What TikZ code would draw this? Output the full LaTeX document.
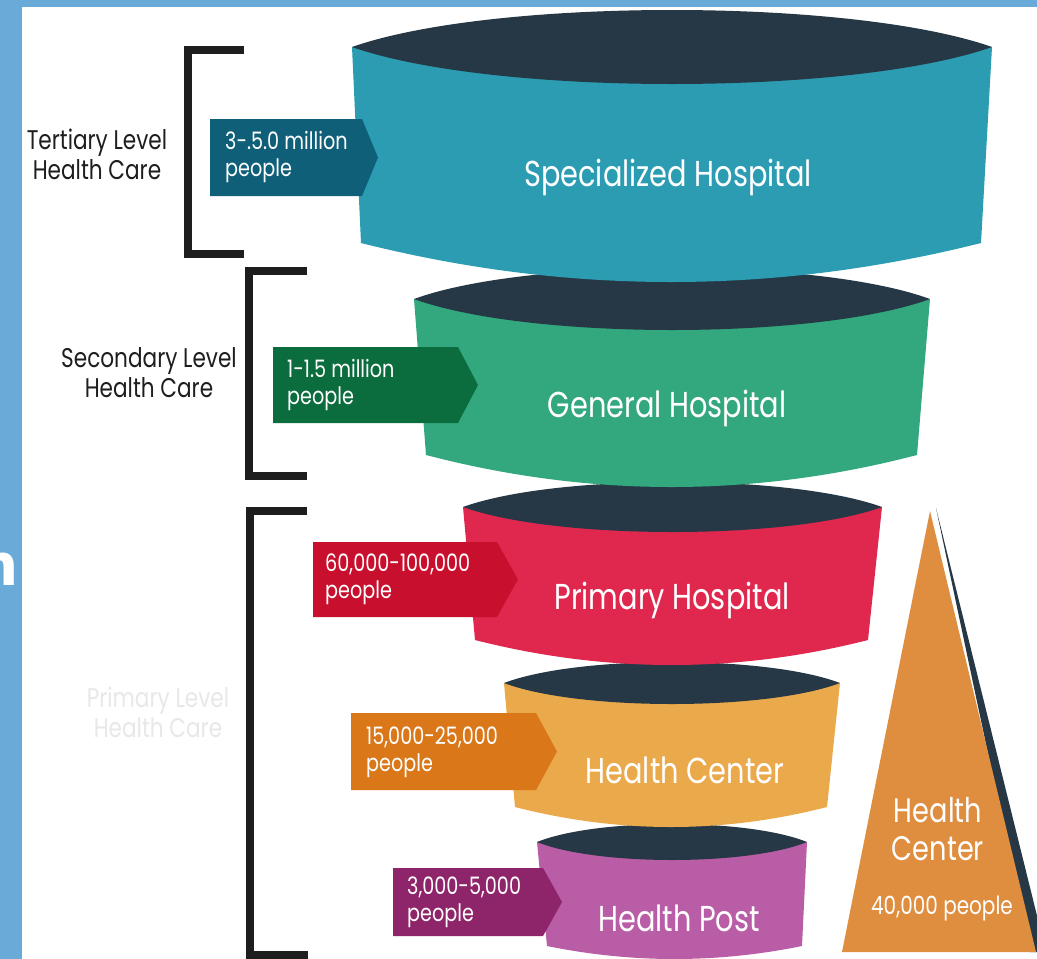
\documentclass[tikz,border=0pt]{standalone}
\usepackage{fontspec}
\setmainfont{Poppins}[FakeStretch=0.8]
\newfontfamily\edgefont{DejaVu Sans}
\usetikzlibrary{calc}

\definecolor{bluebg}{HTML}{6AAAD8}
\definecolor{rim}{HTML}{263845}
\definecolor{ink}{HTML}{1E1E1E}
\definecolor{tealbody}{HTML}{2B9CB1}
\definecolor{tealtag}{HTML}{0F5F79}
\definecolor{greenbody}{HTML}{33A87F}
\definecolor{greentag}{HTML}{0B6C3E}
\definecolor{redbody}{HTML}{E0284F}
\definecolor{redtag}{HTML}{C8102E}
\definecolor{yellowbody}{HTML}{EAA94B}
\definecolor{orangetag}{HTML}{D97719}
\definecolor{pinkbody}{HTML}{B95DA6}
\definecolor{pinktag}{HTML}{8E2469}
\definecolor{pyramid}{HTML}{DF8D3F}

% barrel: #1,#2 lens corner x; #3 lens corner y; #4 lens sag;
%         #5,#6 bottom corner x; #7 bottom corner y; #8 bottom sag; #9 colour
\newcommand\drawbarrel[9]{%
  \fill[#9] (#1,#3) -- (#2,#3) -- (#6,#7)
    .. controls ({#6-(#6-#5)/3},{#7+#8/0.75}) and ({#5+(#6-#5)/3},{#7+#8/0.75}) .. (#5,#7) -- cycle;
  \fill[rim] (#1,#3)
    .. controls ({#1+(#2-#1)*0.22},{#3-#4/0.75}) and ({#2-(#2-#1)*0.22},{#3-#4/0.75}) .. (#2,#3)
    .. controls ({#2-(#2-#1)*0.22},{#3+#4/0.75}) and ({#1+(#2-#1)*0.22},{#3+#4/0.75}) .. (#1,#3) -- cycle;
}
% pentagon tag: #1 left x, #2 right x, #3 tip x, #4 top y, #5 bottom y, #6 colour
\newcommand\drawtag[6]{%
  \fill[#6] (#1,#4) -- (#2,#4) -- (#3,{(#4+#5)/2}) -- (#2,#5) -- (#1,#5) -- cycle;
}

\tikzset{
  bracket/.style={draw=ink, line width=7.5pt, line cap=butt, line join=miter},
  barreltext/.style={text=white, font=\fontsize{36}{40}\selectfont},
  tagtext/.style={text=white, anchor=west, align=left, inner sep=0pt,
                  font=\fontsize{24}{27}\selectfont},
  leveltext/.style={text=ink, align=center, inner sep=0pt,
                    font=\fontsize{27}{30}\selectfont},
}

\begin{document}
\begin{tikzpicture}[x=1pt,y=-1pt]
\useasboundingbox (0,0) rectangle (1037,959);
\clip (0,0) rectangle (1037,959);

% page frame
\fill[bluebg] (0,0) rectangle (1037,959);
\fill[white] (22,7) rectangle (1037,959);
\begin{scope}
  \clip (0,0) rectangle (22,959);
  \node[anchor=east, inner sep=0pt, text=white, font=\edgefont\bfseries\fontsize{58}{60}\selectfont]
    (edge) at (19,569) {n};
\end{scope}

% barrels, lowest first so each rim sits under the one above
\drawbarrel{537}{807}{842}{18}{547}{802}{946}{13}{pinkbody}
\drawbarrel{504}{840}{683}{21}{515}{827}{807}{20}{yellowbody}
\drawbarrel{463}{882}{507}{25}{475}{868}{640}{25}{redbody}
\drawbarrel{414}{930}{299}{31}{426}{917}{455}{32}{greenbody}
\drawbarrel{352}{992}{47}{37}{361}{981}{243}{39}{tealbody}

\node[barreltext] (spec) at (668,177) {Specialized Hospital};
\node[barreltext] (gen)  at (667,408) {General Hospital};
\node[barreltext] (prim) at (672,600) {Primary Hospital};
\node[barreltext] (hc)   at (685,770) {Health Center};
\node[barreltext] (hp)   at (679,918) {Health Post};

% population tags
\drawtag{210}{362}{378}{119}{196}{tealtag}
\drawtag{273}{458}{478}{347}{423}{greentag}
\drawtag{313}{497}{518}{542}{617}{redtag}
\drawtag{351}{536}{557}{713}{790}{orangetag}
\drawtag{393}{543}{562}{868}{936}{pinktag}

\node[tagtext] (t1) at (225,157) {3-.5.0 million\\people};
\node[tagtext] (t2) at (287,385) {1-1.5 million\\people};
\node[tagtext] (t3) at (325,579) {60,000-100,000\\people};
\node[tagtext] (t4) at (366,752) {15,000-25,000\\people};
\node[tagtext] (t5) at (407,902) {3,000-5,000\\people};

% level brackets
\draw[bracket] (244,50) -- (188,50) -- (188,254) -- (244,254);
\draw[bracket] (307,271) -- (249,271) -- (249,476) -- (307,476);
\draw[bracket] (307,511) -- (250,511) -- (250,955) -- (308,955);

\node[leveltext] (tert) at (97,154) {Tertiary Level\\Health Care};
\node[leveltext] (sec)  at (149,373) {Secondary Level\\Health Care};
\node[leveltext, text=black!9] (pri) at (158,712) {Primary Level\\Health Care};

% health centre pyramid
\fill[rim] (936,508) -- (1046,952) -- (1030,952) -- cycle;
\fill[pyramid] (930,511) -- (1036,952) -- (842,952) -- cycle;
\node[text=white, align=center, inner sep=0pt, font=\fontsize{34}{38}\selectfont]
  (pyr) at (938,829) {Health\\Center};
\node[text=white, inner sep=0pt, font=\fontsize{25}{28}\selectfont]
  (pyrpop) at (942,908) {40,000 people};
\end{tikzpicture}
\end{document}
